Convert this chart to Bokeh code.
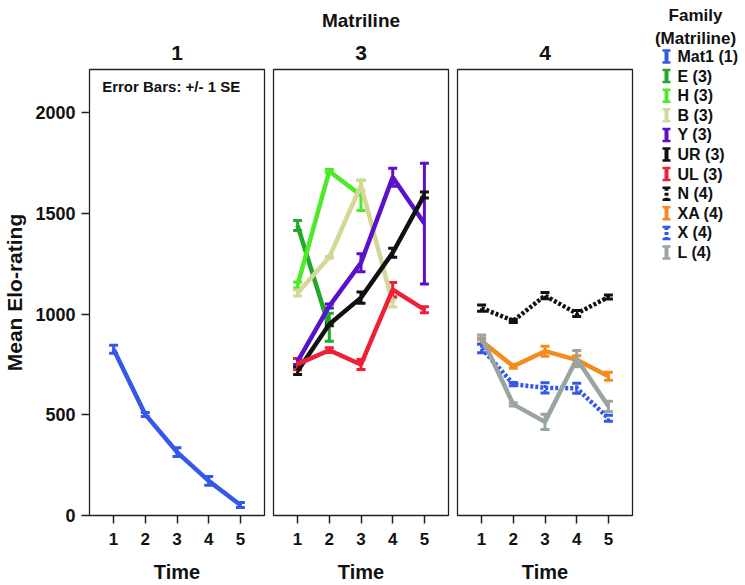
from bokeh.plotting import figure
from bokeh.models import Range1d, FixedTicker, Whisker, TeeHead, ColumnDataSource, Title, Label
from bokeh.layouts import row, column
from bokeh.embed import file_html
from bokeh.resources import INLINE
from bokeh.core.properties import value

# ---------------- data ----------------
times = [1, 2, 3, 4, 5]
panels = ["1", "3", "4"]
families = ["Mat1", "E", "H", "B", "Y", "UR", "UL", "N", "XA", "X", "L"]
matrilines = ["1", "3", "3", "3", "3", "3", "3", "4", "4", "4", "4"]

mat1_mean = [826, 502, 315, 172, 52]
mat1_se = [20, 10, 22, 22, 12]
e_mean = [1440, 935]
e_se = [25, 70]
h_mean = [1145, 1710, 1590]
h_se = [15, 8, 75]
b_mean = [1105, 1283, 1640, 1055]
b_se = [15, 5, 25, 20]
y_mean = [765, 1040, 1255, 1680, 1450]
y_se = [15, 10, 45, 45, 300]
ur_mean = [718, 950, 1082, 1305, 1592]
ur_se = [18, 8, 28, 22, 15]
ul_mean = [752, 821, 750, 1122, 1022]
ul_se = [28, 12, 25, 35, 15]
n_mean = [1030, 967, 1092, 1003, 1085]
n_se = [15, 8, 15, 15, 10]
xa_mean = [866, 741, 816, 773, 692]
xa_se = [15, 10, 25, 20, 20]
x_mean = [830, 652, 634, 632, 483]
x_se = [22, 8, 25, 25, 15]
l_mean = [885, 552, 465, 779, 542]
l_se = [12, 8, 38, 40, 25]

y_ticks = [0, 500, 1000, 1500, 2000]

means = [mat1_mean, e_mean, h_mean, b_mean, y_mean, ur_mean, ul_mean,
         n_mean, xa_mean, x_mean, l_mean]
ses = [mat1_se, e_se, h_se, b_se, y_se, ur_se, ul_se, n_se, xa_se, x_se, l_se]
colors = ["#3558e8", "#22a82a", "#4eea2a", "#d4d796", "#5a12c8", "#111111",
          "#ee2038", "#111111", "#f58a1e", "#3558e8", "#9aa5a3"]
dotted = [False, False, False, False, False, False, False, True, False, True, False]

FONT = "Liberation Sans"
TXT = "#111111"

# ---------------- layout ----------------
H = 585
FRAME_TOP = 69
FRAME_BOTTOM = 70


def style_title(t, size):
    t.align = "center"
    t.text_font = FONT
    t.text_font_size = size
    t.text_font_style = "bold"
    t.text_color = TXT


def make_panel(name, idx):
    left = 89 if idx == 0 else 5
    right = 4 if idx < 2 else 3
    w = left + 175 + right
    p = figure(width=w, height=H, output_backend="svg", toolbar_location=None,
               x_range=Range1d(0.24, 5.76), y_range=Range1d(0, 2215),
               min_border_left=left, min_border_right=right,
               min_border_top=FRAME_TOP, min_border_bottom=FRAME_BOTTOM,
               y_axis_location="left" if idx == 0 else None)
    if idx == 1:
        p.title.text = "Matriline"
        style_title(p.title, "19px")
        p.title.standoff = 7
        t = Title(text=name, standoff=19)
        style_title(t, "21px")
        p.add_layout(t, "above")
    else:
        p.title.text = name
        style_title(p.title, "21px")
        p.title.standoff = 19
    p.xgrid.visible = False
    p.ygrid.visible = False
    p.outline_line_color = "#222222"
    p.outline_line_width = 1.3
    p.background_fill_color = "white"
    p.border_fill_color = "white"

    xa = p.xaxis[0]
    xa.ticker = FixedTicker(ticks=times)
    xa.axis_label = "Time"
    xa.axis_line_color = None
    xa.major_tick_in = 0
    xa.major_tick_out = 8
    xa.major_tick_line_width = 1.5
    xa.major_tick_line_color = "#222222"
    xa.minor_tick_line_color = None
    xa.major_label_text_font = FONT
    xa.major_label_text_font_size = "17px"
    xa.major_label_text_font_style = "bold"
    xa.major_label_text_color = TXT
    xa.major_label_standoff = 9
    xa.axis_label_text_font = FONT
    xa.axis_label_text_font_size = "20px"
    xa.axis_label_text_font_style = "bold"
    xa.axis_label_text_color = TXT
    xa.axis_label_standoff = 13

    if idx == 0:
        ya = p.yaxis[0]
        ya.ticker = FixedTicker(ticks=y_ticks)
        ya.axis_label = "Mean Elo-rating"
        ya.axis_line_color = None
        ya.major_tick_in = 0
        ya.major_tick_out = 8
        ya.major_tick_line_width = 1.5
        ya.major_tick_line_color = "#222222"
        ya.minor_tick_line_color = None
        ya.major_label_text_font = FONT
        ya.major_label_text_font_size = "18px"
        ya.major_label_text_font_style = "bold"
        ya.major_label_text_color = TXT
        ya.major_label_standoff = 6
        ya.axis_label_text_font = FONT
        ya.axis_label_text_font_size = "21px"
        ya.axis_label_text_font_style = "bold"
        ya.axis_label_text_color = TXT
        ya.axis_label_standoff = 6
    return p


figs = [make_panel(n, i) for i, n in enumerate(panels)]

figs[0].add_layout(Label(x=0.64, y=2130, text="Error Bars: +/- 1 SE",
                         text_font=FONT, text_font_size="15px",
                         text_font_style="bold", text_color=TXT,
                         text_baseline="middle", text_align="left"))

for fam, mat, m, s, c, d in zip(families, matrilines, means, ses, colors, dotted):
    p = figs[panels.index(mat)]
    t = times[:len(m)]
    dash = "3 2" if d else "solid"
    src = ColumnDataSource(dict(base=t, mean=m,
                                lower=[a - b for a, b in zip(m, s)],
                                upper=[a + b for a, b in zip(m, s)]))
    p.line("base", "mean", source=src, line_color=c, line_width=4.5,
           line_dash=dash)
    wk = Whisker(base="base", lower="lower", upper="upper", source=src,
                 line_color=c, line_width=3, line_dash=dash,
                 upper_head=TeeHead(size=9, line_color=c, line_width=3),
                 lower_head=TeeHead(size=9, line_color=c, line_width=3))
    p.add_layout(wk)

# ---------------- legend panel ----------------
LW = 110
lg = figure(width=LW, height=H, output_backend="svg", toolbar_location=None,
            x_range=Range1d(0, LW), y_range=Range1d(H, 0),
            x_axis_location=None, y_axis_location=None,
            min_border=0, min_border_left=0, min_border_right=0,
            min_border_top=0, min_border_bottom=0)
lg.xgrid.visible = False
lg.ygrid.visible = False
lg.outline_line_color = None
lg.border_fill_color = "white"

lg.text(x=[60, 60], y=[15, 38], text=["Family", "(Matriline)"],
        text_font=value(FONT), text_font_size="17px", text_font_style="bold",
        text_color=TXT, text_align="center", text_baseline="middle")

labels = [f"{f} ({m})" for f, m in zip(families, matrilines)]
ys = [56 + 19.6 * i for i in range(len(labels))]
lg.text(x=[42] * len(labels), y=ys, text=labels,
        text_font=value(FONT), text_font_size="16px", text_font_style="bold",
        text_color=TXT, text_align="left", text_baseline="middle")

for want_dot in (False, True):
    sel = [i for i in range(len(labels)) if dotted[i] == want_dot]
    if not sel:
        continue
    cx = [31] * len(sel)
    yy = [ys[i] for i in sel]
    cc = [colors[i] for i in sel]
    dash = "3 2" if want_dot else "solid"
    lg.segment(x0=cx, y0=[v - 6 for v in yy], x1=cx, y1=[v + 6 for v in yy],
               line_color=cc, line_width=4, line_dash=dash)
    lg.segment(x0=[v - 4 for v in cx], y0=[v - 6 for v in yy],
               x1=[v + 4 for v in cx], y1=[v - 6 for v in yy],
               line_color=cc, line_width=2.5)
    lg.segment(x0=[v - 4 for v in cx], y0=[v + 6 for v in yy],
               x1=[v + 4 for v in cx], y1=[v + 6 for v in yy],
               line_color=cc, line_width=2.5)

layout = row(row(*figs, spacing=0), column(lg), spacing=0)
open("out.html", "w").write(file_html(layout, INLINE))
